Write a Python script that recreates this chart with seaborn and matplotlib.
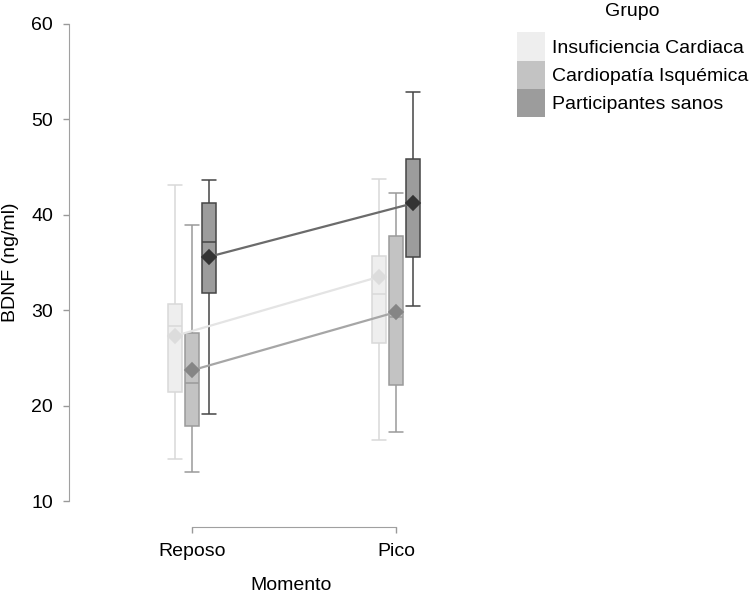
import pandas as pd
import seaborn as sns
import matplotlib.pyplot as plt
from matplotlib.patches import Patch

momentos = ["Reposo", "Pico"]
grupos = ["Insuficiencia Cardiaca", "Cardiopatía Isquémica", "Participantes sanos"]

# five-number summaries: min, q1, median, q3, max
ic_reposo = [14.4, 21.4, 28.3, 30.7, 43.1]
ic_pico = [16.4, 26.6, 31.7, 35.7, 43.8]
ci_reposo = [13.0, 17.9, 22.4, 27.6, 38.9]
ci_pico = [17.2, 22.2, 29.3, 37.8, 42.3]
ps_reposo = [19.1, 31.8, 37.1, 41.2, 43.7]
ps_pico = [30.4, 35.6, 41.2, 45.8, 52.9]

# means (diamonds)
medias_ic = [27.3, 33.5]
medias_ci = [23.7, 29.8]
medias_ps = [35.6, 41.2]

#%% long tables
resumen = {
    grupos[0]: [ic_reposo, ic_pico],
    grupos[1]: [ci_reposo, ci_pico],
    grupos[2]: [ps_reposo, ps_pico],
}
filas = []
for g in grupos:
    for m, vals in zip(momentos, resumen[g]):
        for v in vals:
            filas.append({"Grupo": g, "Momento": m, "BDNF": v})
df = pd.DataFrame(filas)

medias = {grupos[0]: medias_ic, grupos[1]: medias_ci, grupos[2]: medias_ps}
df_medias = pd.DataFrame(
    [{"Grupo": g, "Momento": m, "BDNF": v}
     for g in grupos for m, v in zip(momentos, medias[g])]
)

#%% colours
relleno = {grupos[0]: "#eeeeee", grupos[1]: "#c3c3c3", grupos[2]: "#9c9c9c"}
borde = {grupos[0]: "#d9d9d9", grupos[1]: "#9a9a9a", grupos[2]: "#454545"}
color_media = {grupos[0]: "#dcdcdc", grupos[1]: "#858585", grupos[2]: "#333333"}
color_linea = {grupos[0]: "#e4e4e4", grupos[1]: "#a6a6a6", grupos[2]: "#6b6b6b"}

sns.set_style("ticks")
plt.rcParams["font.family"] = ["Liberation Sans", "DejaVu Sans"]
plt.rcParams["text.color"] = "black"
plt.rcParams["axes.labelcolor"] = "black"
plt.rcParams["xtick.labelcolor"] = "black"
plt.rcParams["ytick.labelcolor"] = "black"

fig, ax = plt.subplots(figsize=(7.5, 6), dpi=100)
fig.subplots_adjust(left=83 / 750, right=500 / 750, bottom=99 / 600, top=576 / 600)

ancho = 0.25
hueco = 0.18
for g in grupos:
    sns.boxplot(data=df[df["Grupo"] == g], x="Momento", y="BDNF", hue="Grupo",
                order=momentos, hue_order=grupos, palette=relleno, saturation=1,
                linecolor=borde[g], linewidth=1.1, width=ancho, gap=hueco,
                whis=(0, 100), dodge=True, legend=False, ax=ax)

# caps as wide as the boxes
media_caja = ancho / 3 * (1 - hueco) / 2
for cont in ax.containers:
    for cap in getattr(cont, "caps", []):
        xc = sum(cap.get_xdata()) / 2
        cap.set_xdata([xc - media_caja, xc + media_caja])

n_antes = len(ax.lines)
sns.pointplot(data=df_medias, x="Momento", y="BDNF", hue="Grupo",
              order=momentos, hue_order=grupos, palette=color_media,
              markers="D", dodge=ancho * 2 / 3, errorbar=None,
              markersize=7, linewidth=1.6, legend=False, ax=ax)
for linea, g in zip(ax.lines[n_antes:], grupos):
    linea.set_color(color_linea[g])
    linea.set_markerfacecolor(color_media[g])
    linea.set_markeredgecolor(color_media[g])
    linea.set_zorder(5)

ax.set_xlim(-0.534, 1.51)
ax.set_ylim(10, 60)
ax.set_yticks([10, 20, 30, 40, 50, 60])
ax.set_xlabel("Momento", fontsize=14, labelpad=12)
ax.set_ylabel("BDNF (ng/ml)", fontsize=14, labelpad=9)
ax.tick_params(labelsize=14, length=4.5, width=1, color="#999999")
ax.tick_params(axis="x", pad=7)
ax.tick_params(axis="y", pad=7)
for s in ax.spines.values():
    s.set_color("#a0a0a0")
sns.despine(ax=ax, offset={"left": 10, "bottom": 19}, trim=True)

handles = [Patch(facecolor=relleno[g], edgecolor="none") for g in grupos]
leg = fig.legend(handles, grupos, title="Grupo", loc="upper left",
                 bbox_to_anchor=(517 / 750, 1 - 3 / 600), frameon=False,
                 fontsize=14, title_fontsize=14, handlelength=1.45, handleheight=1.84,
                 labelspacing=0, handletextpad=0.35, borderpad=0, borderaxespad=0)
leg._legend_box.sep = 9

fig.savefig("out.png", dpi=100)
